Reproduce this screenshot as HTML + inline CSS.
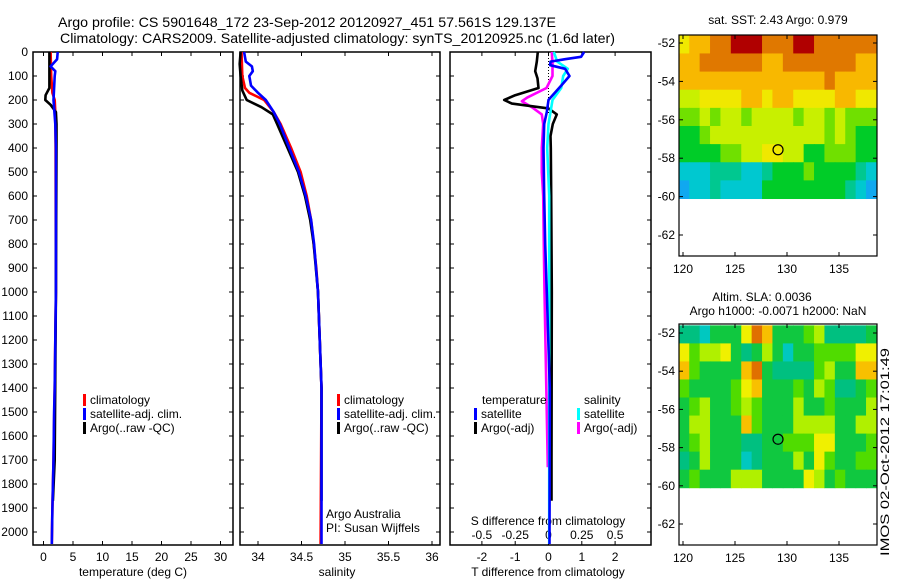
<!DOCTYPE html>
<html><head><meta charset="utf-8"><style>
html,body{margin:0;padding:0;background:#fff;}
svg{display:block;font-family:"Liberation Sans",sans-serif;}
text{fill:#000;}
</style></head><body>
<svg id="fig" width="900" height="580" viewBox="0 0 900 580" xmlns="http://www.w3.org/2000/svg">
<text x="58" y="27" font-size="14" textLength="498" lengthAdjust="spacingAndGlyphs">Argo profile: CS 5901648_172 23-Sep-2012 20120927_451 57.561S 129.137E</text>
<text x="60" y="43" font-size="14" textLength="555" lengthAdjust="spacingAndGlyphs">Climatology: CARS2009. Satellite-adjusted climatology: synTS_20120925.nc (1.6d later)</text>
<g id="plots"></g>
<text x="778" y="24" font-size="12" text-anchor="middle">sat. SST: 2.43 Argo: 0.979</text>
<text x="762" y="301" font-size="12" text-anchor="middle">Altim. SLA: 0.0036</text>
<text x="778" y="315" font-size="12" text-anchor="middle">Argo h1000: -0.0071 h2000: NaN</text>
<text transform="translate(889,556) rotate(-90)" font-size="12" textLength="208" lengthAdjust="spacingAndGlyphs">IMOS 02-Oct-2012 17:01:49</text>
</svg>
<script>
// ---------- data ----------
const depthTicks = [0,100,200,300,400,500,600,700,800,900,1000,1100,1200,1300,1400,1500,1600,1700,1800,1900,2000];
const tempTicks = [0,5,10,15,20,25,30];
const salTicks = [34,34.5,35,35.5,36];
const salTickLabels = ["34","34.5","35","35.5","36"];
const tdiffTicks = [-2,-1,0,1,2];
const sdiffTicks = [-0.5,-0.25,0,0.25,0.5];
const sdiffTickLabels = ["-0.5","-0.25","0","0.25","0.5"];

const tClimDepth = [0,100,170,200,250,400,1000,1400,1700,1900,2050];
const tClimVal   = [1.2,1.3,1.5,1.9,2.0,2.05,2.1,1.9,1.7,1.5,1.4];
const tSatDepth  = [0,30,60,80,100,200,300,400,1000,1400,1500,1700,1900,2050];
const tSatVal    = [2.4,2.3,1.2,2.0,1.9,1.7,2.0,2.1,2.1,1.9,1.8,1.7,1.5,1.4];
const tArgoDepth = [0,150,180,200,220,250,300,400,1000,1700,1870];
const tArgoVal   = [1.0,1.0,0.35,0.3,1.2,2.1,2.2,2.2,2.1,1.9,1.6];

const sClimDepth = [0,100,150,170,200,250,300,400,500,600,700,800,900,1000,1400,2050];
const sClimVal   = [33.81,33.82,33.85,33.9,34.07,34.18,34.26,34.38,34.49,34.56,34.61,34.64,34.67,34.69,34.73,34.72];
const sSatDepth  = [0,40,60,80,100,140,170,200,250,300,400,500,600,700,800,1000,1400,2050];
const sSatVal    = [33.84,33.86,33.93,33.94,33.9,33.92,34.0,34.09,34.18,34.25,34.36,34.47,34.55,34.61,34.645,34.69,34.73,34.73];
const sArgoDepth = [0,50,100,160,200,230,260,300,400,500,600,700,800,1000,1400,1870];
const sArgoVal   = [33.80,33.79,33.80,33.82,33.87,34.04,34.17,34.22,34.34,34.46,34.54,34.60,34.64,34.69,34.73,34.73];

const dtSatDepth = [0,20,30,40,55,70,100,140,190,200,250,300,400,600,800,1000,1400,2050];
const dtSatVal   = [1.07,0.98,0.5,0.06,0.05,0.5,0.63,0.38,0.06,0,-0.05,-0.13,-0.15,-0.13,-0.1,-0.05,0.04,0.03];
const dtArgoDepth = [0,40,80,110,150,180,200,215,235,260,300,350,400,600,1000,1700,1870];
const dtArgoVal   = [-0.32,-0.35,-0.4,-0.33,-0.3,-1.0,-1.33,-1.1,0,0.25,0.13,0.06,0.07,0.08,0.1,0.09,0.09];
const dsSatDepth = [0,40,70,100,150,200,300,400,600,1000,2050];
const dsSatVal   = [0.04,0.065,0.145,0.11,0.095,0.03,0,-0.01,0.005,0.005,0.005];
const dsArgoDepth = [0,50,100,150,190,205,230,260,300,400,500,600,800,1000,1730];
const dsArgoVal   = [0.025,0.03,0.03,-0.015,-0.16,-0.2,-0.125,-0.05,-0.04,-0.05,-0.05,-0.04,-0.035,-0.03,-0.005];

const latTicks = [-52,-54,-56,-58,-60,-62];
const lonTicks = [120,125,130,135];
const argoLon = 129.137, argoLat = -57.561;
const sstGrid = [
 "6778899988899888888",
 "7788888877888888877",
 "7777777777777787777",
 "5566667767766667766",
 "4454554555545545444",
 "3345555555555545433",
 "3333445566553344433",
 "1112221123334333321",
 "0112111133333333210"];
const slaGrid = [
 "2213336873334522223",
 "6455632353133444466",
 "7433337832222453377",
 "4333346733343542234",
 "3453345433353343335",
 "3553337433355553355",
 "3453332233444663334",
 "2353331233353643344",
 "3433355533336534333"];
const sstColors = ["#10a8f0","#00c8d0","#00c890","#00cc28","#70e000","#c8f000","#f0e800","#f8b800","#e07800","#b00000"];
const slaColors = ["#10a8f0","#00c8c0","#00c080","#10c840","#50dc00","#b0f000","#f0f000","#f8c000","#e07000","#b00000"];

// ---------- drawing ----------
const NS = "http://www.w3.org/2000/svg";
const root = document.getElementById('plots');
function mk(tag, attrs, parent) {
  const e = document.createElementNS(NS, tag);
  for (const k in attrs) e.setAttribute(k, attrs[k]);
  (parent || root).appendChild(e);
  return e;
}
const yTop = 52, yPer = 0.24, yBot = 545;
const yD = d => yTop + d * yPer;
const panels = [
  {name:'temperature-panel', x0:33, x1:233, sx: v => 43.5 + 5.9 * v},
  {name:'salinity-panel', x0:240, x1:440, sx: v => 258 + 87 * (v - 34)},
  {name:'difference-panel', x0:450, x1:651, sx: v => 548.5 + 33.3 * v}
];
const sdx = v => 548.5 + 133.2 * v;

panels.forEach((p, pi) => {
  const g = mk('g', {});
  
  
  const fr = mk('rect', {x:p.x0, y:yTop, width:p.x1-p.x0, height:yBot-yTop, fill:'none', stroke:'#000', 'stroke-width':1.5}, g);
  
  
  depthTicks.forEach(d => {
    const y = yD(d);
    mk('line', {x1:p.x0, x2:p.x0+4, y1:y, y2:y, stroke:'#000'}, g);
    mk('line', {x1:p.x1-4, x2:p.x1, y1:y, y2:y, stroke:'#000'}, g);
    if (pi === 0) {
      const t = mk('text', {x:28, y:y+4, 'font-size':12, 'text-anchor':'end'}, g);
      t.textContent = d;
      
      
    }
  });
});

function xTicks(p, ticks, labels, ly, sx) {
  ticks.forEach((v, i) => {
    const x = sx(v);
    mk('line', {x1:x, x2:x, y1:yBot-4, y2:yBot, stroke:'#000'});
    mk('line', {x1:x, x2:x, y1:yTop, y2:yTop+4, stroke:'#000'});
    const t = mk('text', {x:x, y:ly, 'font-size':12, 'text-anchor':'middle'});
    t.textContent = labels ? labels[i] : v;
    
    
  });
}
xTicks(panels[0], tempTicks, null, 561, panels[0].sx);
xTicks(panels[1], salTicks, salTickLabels, 561, panels[1].sx);
xTicks(panels[2], tdiffTicks, null, 561, panels[2].sx);
sdiffTicks.forEach((v, i) => {
  const t = mk('text', {x:sdx(v), y:539, 'font-size':12, 'text-anchor':'middle'});
  t.textContent = sdiffTickLabels[i];
  
  
});
function label(txt, x, y, name, anchor) {
  const t = mk('text', {x:x, y:y, 'font-size':12, 'text-anchor':anchor || 'start'});
  t.textContent = txt;
  
  
  return t;
}
label('temperature (deg C)', 133, 576, 'temperature-axis-title', 'middle');
label('salinity', 337, 576, 'salinity-axis-title', 'middle');
label('T difference from climatology', 548, 576, 't-diff-axis-title', 'middle');
label('S difference from climatology', 548, 525, 's-diff-axis-title', 'middle');
label('Argo Australia', 326, 518, 'credit-line-1');
label('PI: Susan Wijffels', 326, 532, 'credit-line-2');

mk('line', {x1:548.5, x2:548.5, y1:yTop, y2:yD(260), stroke:'#000', 'stroke-dasharray':'1,2'});

function series(depths, vals, sx, color, name) {
  const pts = depths.map((d, i) => sx(vals[i]).toFixed(1) + ',' + yD(d).toFixed(1)).join(' ');
  const l = mk('polyline', {points:pts, fill:'none', stroke:color, 'stroke-width':2.6, 'stroke-linejoin':'round'});
  
  
}
const sxT = panels[0].sx, sxS = panels[1].sx, sxD = panels[2].sx;
series(tClimDepth, tClimVal, sxT, '#ff0000', 'temp-climatology-line');
series(tArgoDepth, tArgoVal, sxT, '#000000', 'temp-argo-line');
series(tSatDepth, tSatVal, sxT, '#0000ff', 'temp-satellite-line');
series(sClimDepth, sClimVal, sxS, '#ff0000', 'sal-climatology-line');
series(sArgoDepth, sArgoVal, sxS, '#000000', 'sal-argo-line');
series(sSatDepth, sSatVal, sxS, '#0000ff', 'sal-satellite-line');
series(dsArgoDepth, dsArgoVal, sdx, '#ff00ff', 'sdiff-argo-line');
series(dtArgoDepth, dtArgoVal, sxD, '#000000', 'tdiff-argo-line');
series(dsSatDepth, dsSatVal, sdx, '#00ffff', 'sdiff-satellite-line');
series(dtSatDepth, dtSatVal, sxD, '#0000ff', 'tdiff-satellite-line');

function legendEntry(x, y, color, txt, name) {
  mk('rect', {x:x, y:y-10, width:3, height:12, fill:color});
  label(txt, x+7, y, name);
}
legendEntry(83, 404, '#ff0000', 'climatology', 'legend-climatology');
legendEntry(83, 418, '#0000ff', 'satellite-adj. clim.', 'legend-satellite');
legendEntry(83, 432, '#000000', 'Argo(..raw -QC)', 'legend-argo');
legendEntry(337, 404, '#ff0000', 'climatology', 'legend-climatology');
legendEntry(337, 418, '#0000ff', 'satellite-adj. clim.', 'legend-satellite');
legendEntry(337, 432, '#000000', 'Argo(..raw -QC)', 'legend-argo');
label('temperature', 482, 404, 'legend-temperature-heading');
label('salinity', 584, 404, 'legend-salinity-heading');
legendEntry(474, 418, '#0000ff', 'satellite', 'legend-t-satellite');
legendEntry(474, 432, '#000000', 'Argo(-adj)', 'legend-t-argo');
legendEntry(577, 418, '#00ffff', 'satellite', 'legend-s-satellite');
legendEntry(577, 432, '#ff00ff', 'Argo(-adj)', 'legend-s-argo');

// ---------- maps ----------
const lonX = lon => 683 + 10.4 * (lon - 120);
const lonMin = 119.6, lonMax = 138.6;
function drawMap(name, top, latY, grid, colors, frameBot) {
  const g = mk('g', {});
  
  
  const latTopV = -51.6, latBotV = -60.1;
  const rows = grid.length, cols = grid[0].length;
  const dLon = (lonMax - lonMin) / cols, dLat = (latTopV - latBotV) / rows;
  for (let r = 0; r < rows; r++) for (let c = 0; c < cols; c++) {
    const x0 = lonX(lonMin + c * dLon), x1 = lonX(lonMin + (c + 1) * dLon);
    const y0 = latY(latTopV - r * dLat), y1 = latY(latTopV - (r + 1) * dLat);
    const cell = mk('rect', {x:x0, y:y0, width:x1-x0+0.5, height:y1-y0+0.5, fill:colors[+grid[r][c]]}, g);
    
    
  }
  mk('rect', {x:679, y:top, width:198, height:frameBot-top, fill:'none', stroke:'#000', 'stroke-width':1.2}, g);
  latTicks.forEach(l => {
    const y = latY(l);
    mk('line', {x1:679, x2:683, y1:y, y2:y, stroke:'#000'}, g);
    mk('line', {x1:873, x2:877, y1:y, y2:y, stroke:'#000'}, g);
    const t = mk('text', {x:675, y:y+4, 'font-size':12, 'text-anchor':'end'}, g);
    t.textContent = l;
    
    
  });
  lonTicks.forEach(l => {
    const x = lonX(l);
    mk('line', {x1:x, x2:x, y1:top, y2:top+4, stroke:'#000'}, g);
    mk('line', {x1:x, x2:x, y1:frameBot-4, y2:frameBot, stroke:'#000'}, g);
    const t = mk('text', {x:x, y:frameBot+17, 'font-size':12, 'text-anchor':'middle'}, g);
    t.textContent = l;
    
    
  });
  const m = mk('circle', {cx:lonX(argoLon), cy:latY(argoLat), r:5, fill:'none', stroke:'#000', 'stroke-width':1.2}, g);
  
  
}
drawMap('sst-map', 35, lat => 43 + 19.2 * (-52 - lat), sstGrid, sstColors, 256);
drawMap('sla-map', 324, lat => 333 + 19.1 * (-52 - lat), slaGrid, slaColors, 545);
</script>
</body></html>
